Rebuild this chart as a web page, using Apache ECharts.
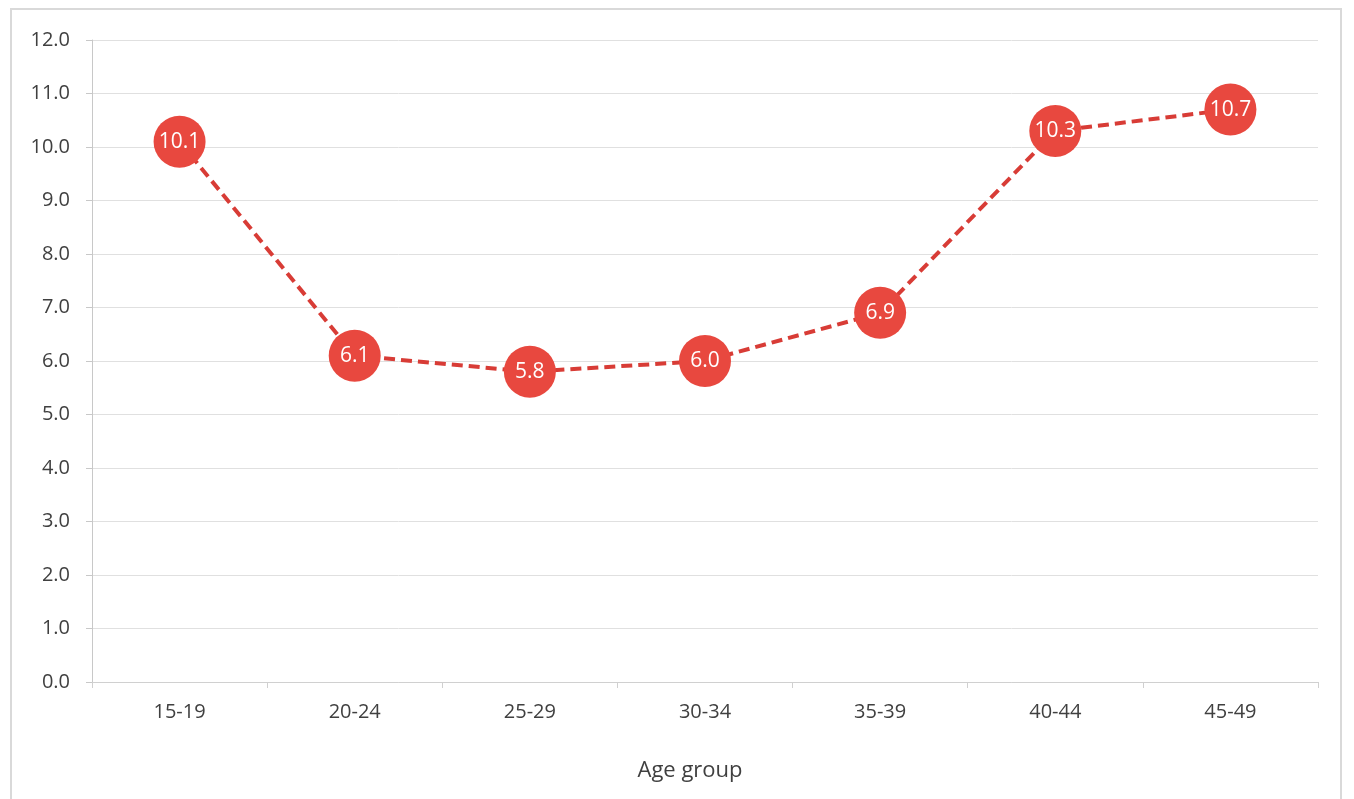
<!DOCTYPE html>
<html>
<head>
<meta charset="utf-8">
<script src="https://cdn.jsdelivr.net/npm/echarts@6/dist/echarts.min.js"></script>
<style>
  html, body { margin: 0; padding: 0; background: #fff; }
  #frame { position: absolute; left: 10px; top: 8px; width: 1332px; height: 800px; border: 2px solid #d9d9d9; box-sizing: border-box; }
  #chart { position: absolute; left: 0; top: 0; width: 1354px; height: 799px; }
</style>
</head>
<body>
<div id="frame"></div>
<div id="chart"></div>
<script>
// age groups and rates
var ageGroups = ['15-19', '20-24', '25-29', '30-34', '35-39', '40-44', '45-49'];
var rates = [10.1, 6.1, 5.8, 6.0, 6.9, 10.3, 10.7];

var myChart = echarts.init(document.getElementById('chart'));
var fontFam = '"Open Sans", "Noto Sans", sans-serif';

var option = {
    animation: false,
    grid: { left: 92, right: 36, top: 40, bottom: 117 },
    xAxis: {
        type: 'category',
        data: ageGroups,
        boundaryGap: true,
        name: 'Age group',
        nameLocation: 'middle',
        nameGap: 78,
        nameTextStyle: { fontSize: 22, color: '#404040', fontFamily: fontFam, padding: [0, 30, 0, 0] },
        axisLine: { lineStyle: { color: '#d0d0d0', width: 1 } },
        axisTick: { show: true, length: 6, lineStyle: { color: '#d0d0d0' } },
        axisLabel: { fontSize: 20, color: '#404040', margin: 20, fontFamily: fontFam },
        splitLine: { show: false }
    },
    yAxis: {
        type: 'value',
        min: 0,
        max: 12,
        interval: 1,
        axisLine: { show: true, lineStyle: { color: '#c8c8c8', width: 1 } },
        axisTick: { show: true, length: 6, lineStyle: { color: '#c8c8c8' } },
        axisLabel: {
            fontSize: 20, color: '#404040', margin: 22, fontFamily: fontFam,
            formatter: function (v) { return v.toFixed(1); }
        },
        splitLine: { lineStyle: { color: '#e0e0e0', width: 1 } }
    },
    series: [{
        type: 'line',
        data: rates,
        symbol: 'circle',
        symbolSize: 52,
        itemStyle: { color: '#e8483f', borderWidth: 0 },
        lineStyle: { color: '#d83c36', width: 4, type: [11, 6] },
        label: {
            show: true,
            position: 'inside',
            color: '#ffffff',
            fontSize: 21,
            fontFamily: fontFam,
            formatter: function (p) { return p.value.toFixed(1); }
        },
        z: 3
    }]
};
myChart.setOption(option);
</script>
</body>
</html>
